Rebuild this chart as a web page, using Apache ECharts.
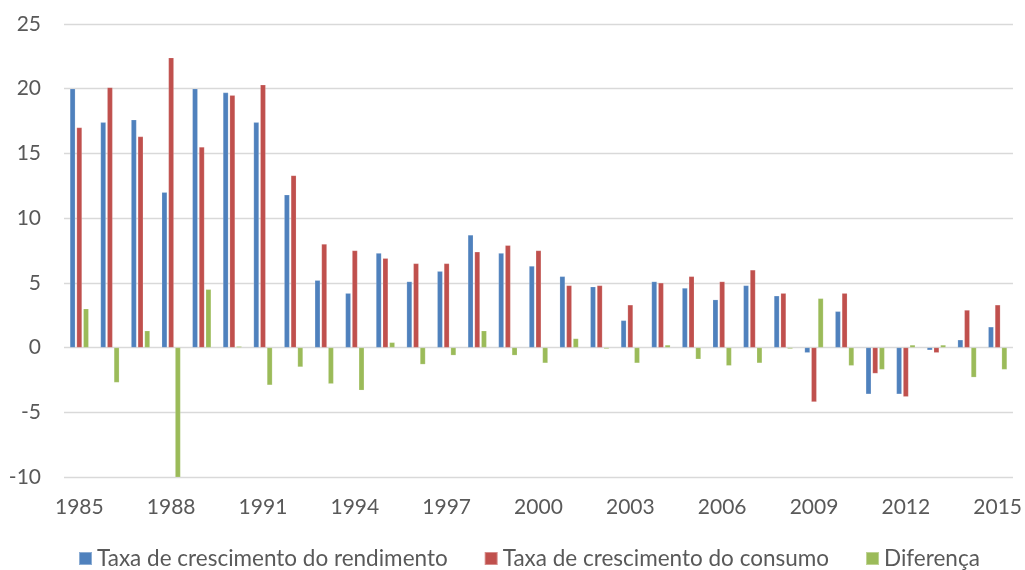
<!DOCTYPE html>
<html>
<head>
<meta charset="utf-8">
<script src="https://cdn.jsdelivr.net/npm/echarts@6/dist/echarts.min.js"></script>
<style>
  html, body { margin: 0; padding: 0; background: #fff; }
  #chart { width: 1025px; height: 570px; }
</style>
</head>
<body>
<div id="chart"></div>
<script>
// Anos 1985–2015
const years = [];
for (let y = 1985; y <= 2015; y++) years.push(String(y));

// Taxa de crescimento do rendimento (%)
const rendimento = [20.0, 17.4, 17.6, 12.0, 20.0, 19.7, 17.4, 11.8, 5.2, 4.2,
                    7.3, 5.1, 5.9, 8.7, 7.3, 6.3, 5.5, 4.7, 2.1, 5.1,
                    4.6, 3.7, 4.8, 4.0, -0.4, 2.8, -3.6, -3.6, -0.2, 0.6, 1.6];

// Taxa de crescimento do consumo (%)
const consumo = [17.0, 20.1, 16.3, 22.4, 15.5, 19.5, 20.3, 13.3, 8.0, 7.5,
                 6.9, 6.5, 6.5, 7.4, 7.9, 7.5, 4.8, 4.8, 3.3, 5.0,
                 5.5, 5.1, 6.0, 4.2, -4.2, 4.2, -2.0, -3.8, -0.4, 2.9, 3.3];

// Diferença entre as duas taxas
const diferenca = [3.0, -2.7, 1.3, -10.4, 4.5, 0.1, -2.9, -1.5, -2.8, -3.3,
                   0.4, -1.3, -0.6, 1.3, -0.6, -1.2, 0.7, -0.1, -1.2, 0.2,
                   -0.9, -1.4, -1.2, -0.1, 3.8, -1.4, -1.7, 0.2, 0.2, -2.3, -1.7];

const seriesNames = ['Taxa de crescimento do rendimento', 'Taxa de crescimento do consumo', 'Diferença'];
const seriesColors = ['#4f81bd', '#c0504d', '#9bbb59'];
const seriesData = [rendimento, consumo, diferenca];

const font = 'Lato, "Open Sans", sans-serif';
const chart = echarts.init(document.getElementById('chart'), null, { renderer: 'canvas' });

chart.setOption({
  animation: false,
  backgroundColor: '#ffffff',
  color: seriesColors,
  textStyle: { fontFamily: font },
  grid: { left: 64, right: 11, top: 24, bottom: 93, containLabel: false },
  legend: {
    bottom: -5,
    left: 73,
    icon: 'rect',
    itemWidth: 13,
    itemHeight: 13,
    itemGap: 36,
    textStyle: { color: '#595959', fontSize: 22.5, fontFamily: font },
    data: seriesNames
  },
  xAxis: {
    type: 'category',
    data: years,
    axisLine: { show: false, onZero: false },
    axisTick: { show: false },
    axisLabel: { interval: 2, color: '#595959', fontSize: 21, fontFamily: font, margin: 20 },
    splitLine: { show: false }
  },
  yAxis: {
    type: 'value',
    min: -10,
    max: 25,
    interval: 5,
    axisLine: { show: false },
    axisTick: { show: false },
    axisLabel: { color: '#595959', fontSize: 21, fontFamily: font, margin: 23 },
    splitLine: { lineStyle: { color: '#d9d9d9', width: 1.3 } }
  },
  series: seriesNames.map((name, i) => ({
    name: name,
    type: 'bar',
    data: seriesData[i],
    barWidth: 5.4,
    barGap: '24%',
    clip: true,
    itemStyle: { color: seriesColors[i], borderColor: 'rgba(255,255,255,0.35)', borderWidth: 0.5 }
  }))
});
</script>
</body>
</html>
